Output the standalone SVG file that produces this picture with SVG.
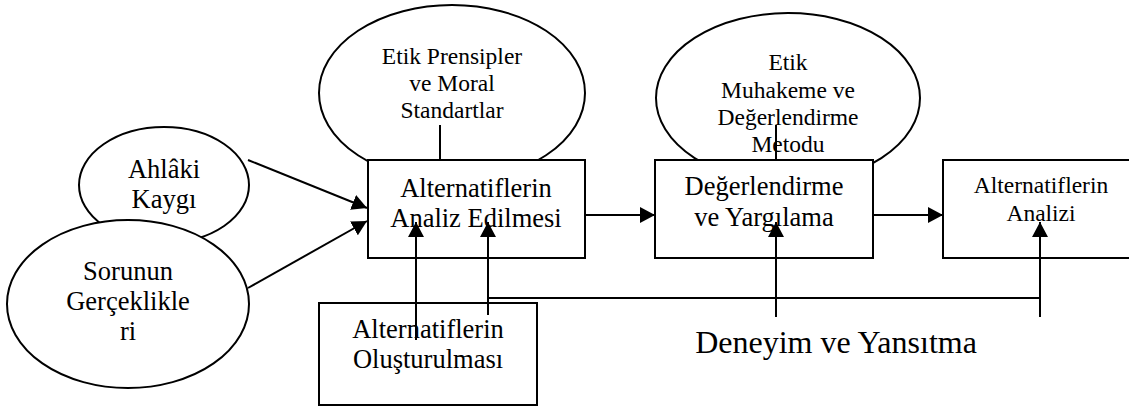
<svg xmlns="http://www.w3.org/2000/svg" width="1129" height="410" viewBox="0 0 1129 410">
<style>
.shape{fill:#fff;stroke:#000;stroke-width:2}
.t{font-family:"Liberation Serif","Times New Roman",serif;fill:#000;text-anchor:middle}
.big{font-size:26.5px}
.sm{font-size:23.5px}
.xl{font-size:32px}
.ln{fill:none;stroke:#000;stroke-width:2}
</style>
<defs>
<marker id="ah" markerUnits="userSpaceOnUse" markerWidth="15" markerHeight="16" refX="15" refY="8" orient="auto">
<path d="M0,0 L15,8 L0,16 z" fill="#000"/>
</marker>
</defs>
<rect width="1129" height="410" fill="#fff"/>
<g id="ahlaki">
<ellipse class="shape" cx="164" cy="185" rx="85" ry="58"/>
<text class="t big" x="164" y="178">Ahlâki</text>
<text class="t big" x="164" y="208">Kaygı</text>
</g>
<g id="sorunun">
<ellipse class="shape" cx="128" cy="304" rx="121" ry="84"/>
<text class="t big" x="128" y="280">Sorunun</text>
<text class="t big" x="128" y="310">Gerçeklikle</text>
<text class="t big" x="128" y="340">ri</text>
</g>
<g id="etik-prensipler">
<ellipse class="shape" cx="452" cy="93" rx="133" ry="88"/>
<text class="t sm" x="452" y="64">Etik Prensipler</text>
<text class="t sm" x="452" y="91">ve Moral</text>
<text class="t sm" x="452" y="118">Standartlar</text>
</g>
<g id="etik-muhakeme">
<ellipse class="shape" cx="788" cy="98" rx="132" ry="85"/>
<text class="t sm" x="788" y="70">Etik</text>
<text class="t sm" x="788" y="98">Muhakeme ve</text>
<text class="t sm" x="788" y="125">Değerlendirme</text>
<text class="t sm" x="788" y="152">Metodu</text>
</g>
<g id="analiz-edilmesi">
<rect class="shape" x="368" y="160" width="217" height="98"/>
<text class="t big" x="476" y="197">Alternatiflerin</text>
<text class="t big" x="476" y="227">Analiz Edilmesi</text>
</g>
<g id="degerlendirme">
<rect class="shape" x="655" y="160" width="218" height="98"/>
<text class="t big" x="764" y="195">Değerlendirme</text>
<text class="t big" x="764" y="226">ve Yargılama</text>
</g>
<g id="analizi">
<rect class="shape" x="943" y="160" width="200" height="98"/>
<text class="t sm" x="1041" y="193">Alternatiflerin</text>
<text class="t sm" x="1041" y="221">Analizi</text>
</g>
<g id="olusturulmasi">
<rect class="shape" x="319" y="303" width="218" height="102"/>
<text class="t big" x="428" y="338">Alternatiflerin</text>
<text class="t big" x="428" y="368">Oluşturulması</text>
</g>
<g id="deneyim">
<text class="t xl" x="836" y="353">Deneyim ve Yansıtma</text>
</g>
<g id="connectors">
<line class="ln" x1="440" y1="125" x2="440" y2="160"/>
<line class="ln" x1="776" y1="125" x2="776" y2="160"/>
<line class="ln" x1="248" y1="160" x2="367" y2="208" marker-end="url(#ah)"/>
<line class="ln" x1="248" y1="288" x2="367" y2="221" marker-end="url(#ah)"/>
<line class="ln" x1="585" y1="215" x2="655" y2="215" marker-end="url(#ah)"/>
<line class="ln" x1="873" y1="215" x2="943" y2="215" marker-end="url(#ah)"/>
<line class="ln" x1="416" y1="340" x2="416" y2="222" marker-end="url(#ah)"/>
<line class="ln" x1="488" y1="315" x2="488" y2="222" marker-end="url(#ah)"/>
<line class="ln" x1="776" y1="317" x2="776" y2="222" marker-end="url(#ah)"/>
<line class="ln" x1="1040" y1="317" x2="1040" y2="222" marker-end="url(#ah)"/>
<line class="ln" x1="487" y1="298" x2="1041" y2="298"/>
</g>
</svg>
